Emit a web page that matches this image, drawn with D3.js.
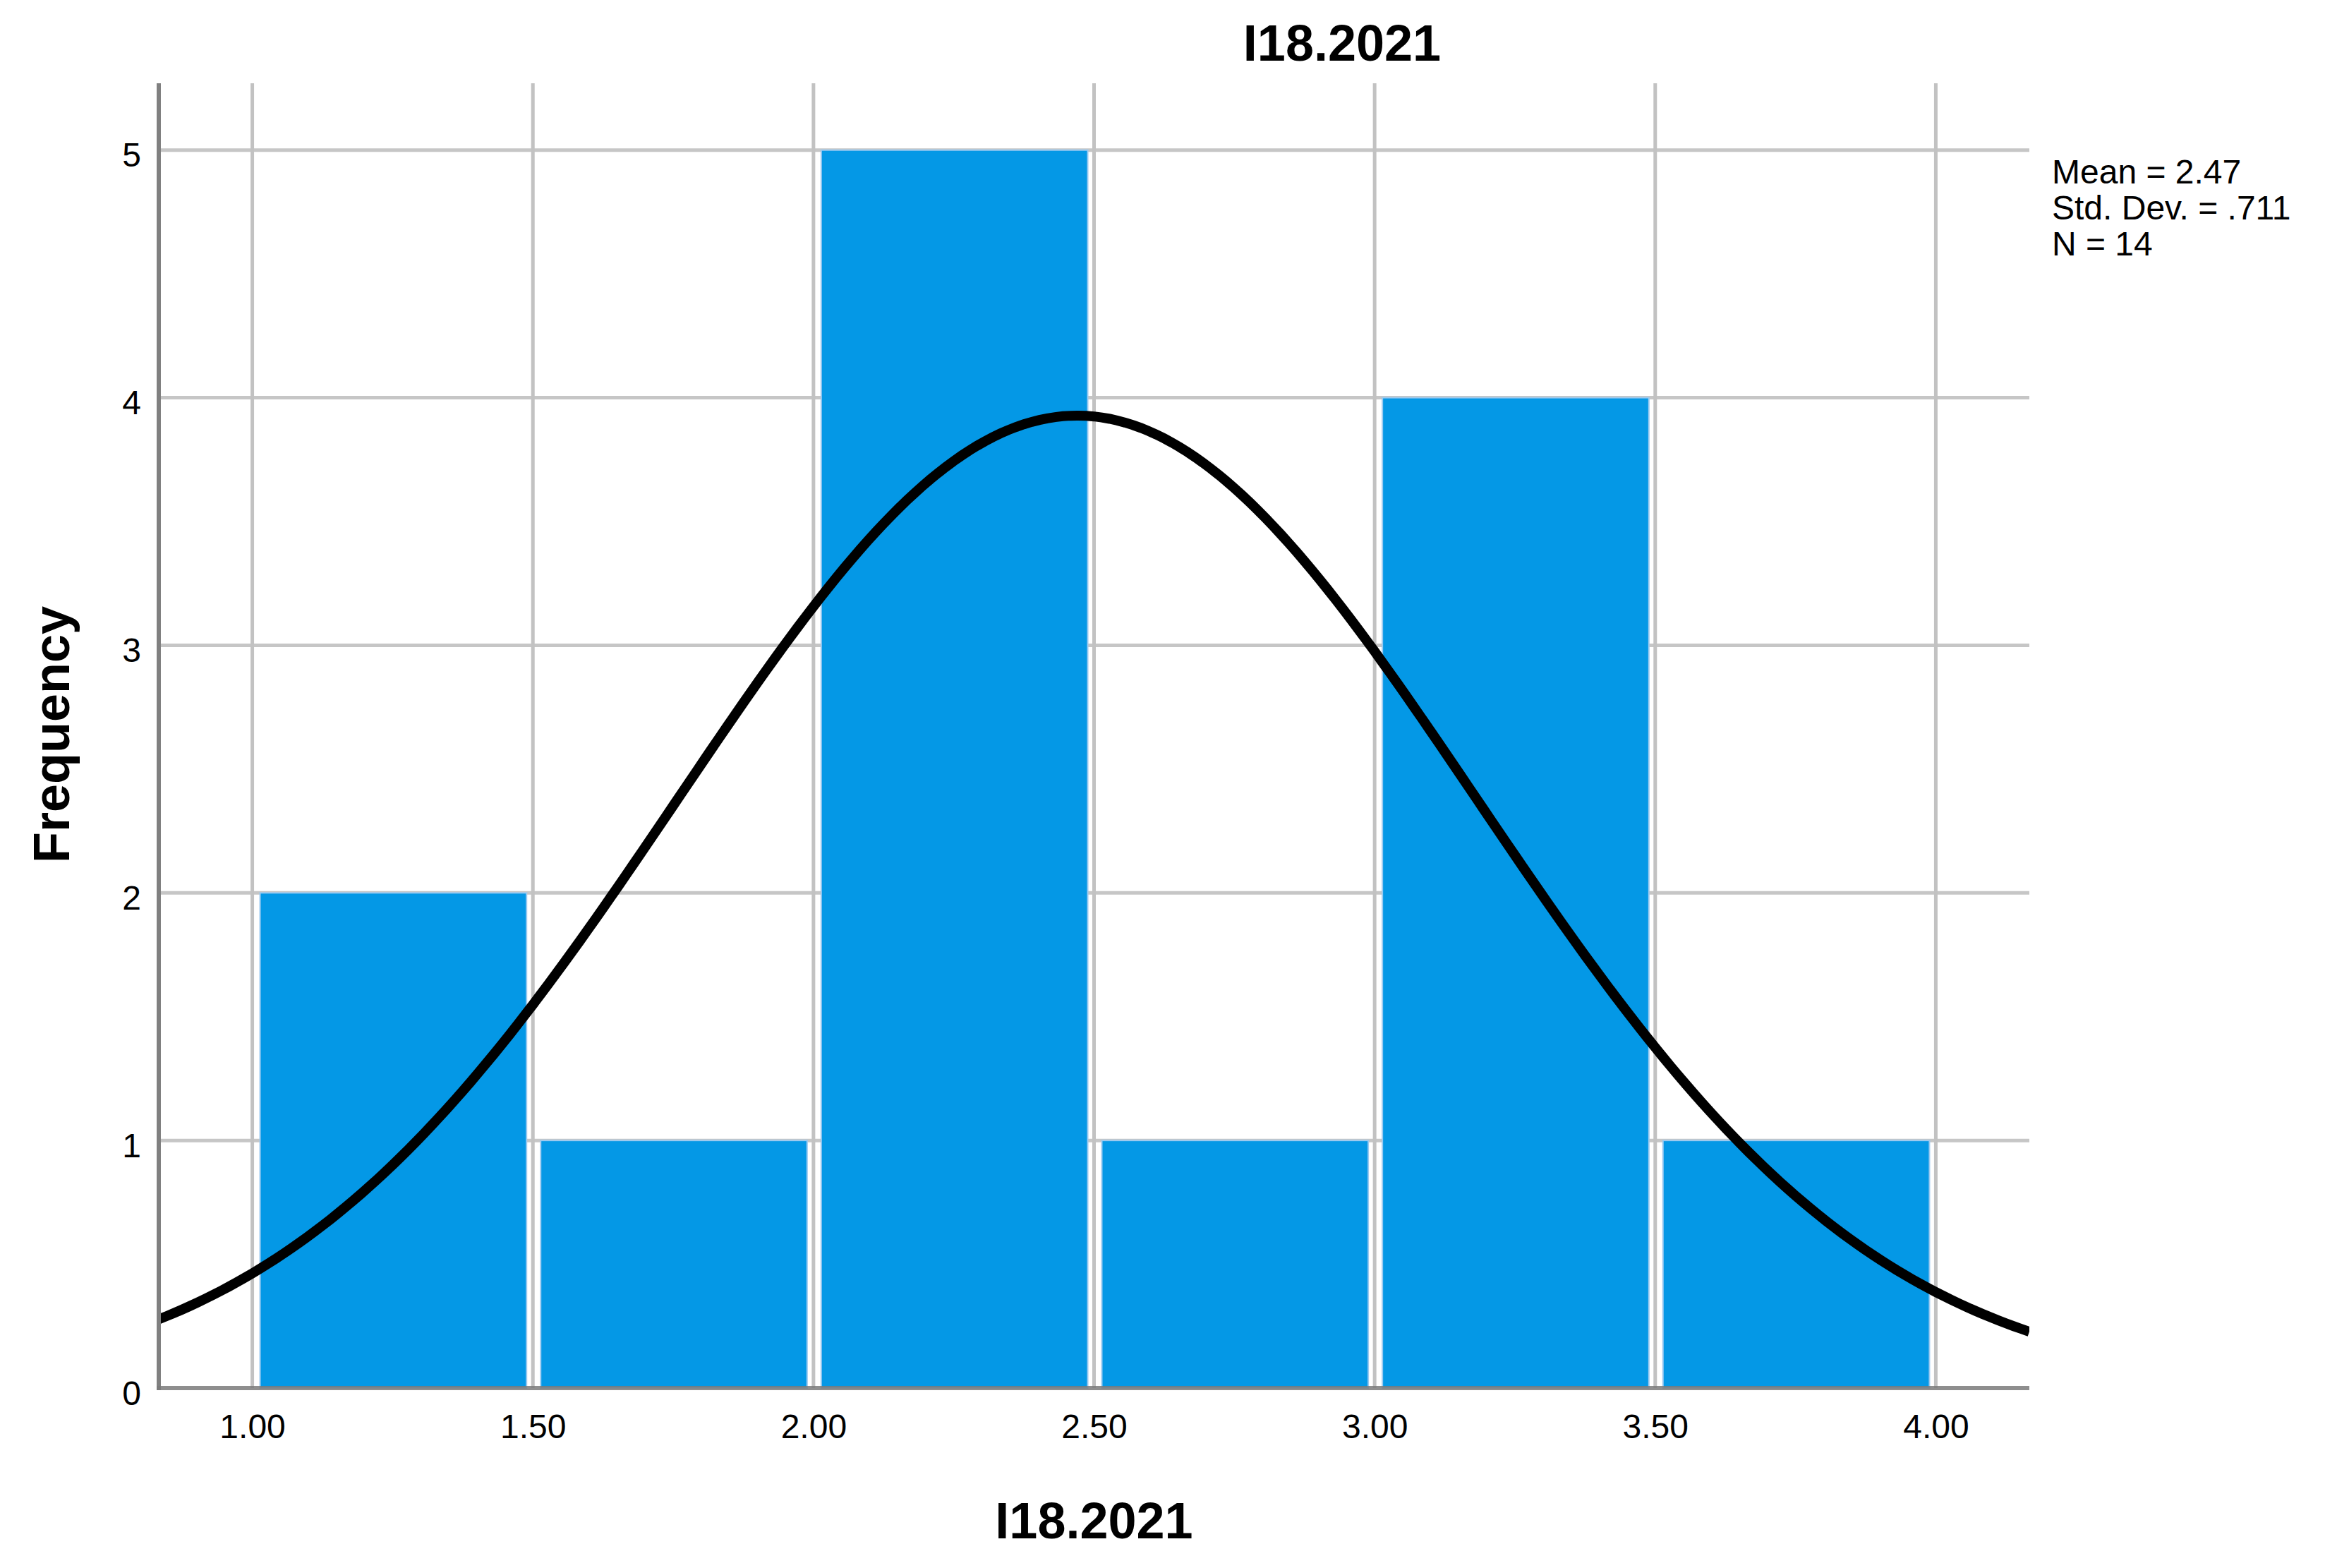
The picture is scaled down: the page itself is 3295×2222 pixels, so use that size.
<!DOCTYPE html>
<html>
<head>
<meta charset="utf-8">
<script src="https://cdn.jsdelivr.net/npm/d3@7"></script>
<style>
  body { margin: 0; background: #fff; }
  svg { display: block; }
  text { font-family: "Liberation Sans", Arial, sans-serif; fill: #000; }
</style>
</head>
<body>
<div id="chart"></div>
<script>
// histogram bins (lower edge) and their counts
var binStarts = [1.0, 1.5, 2.0, 2.5, 3.0, 3.5];
var binWidth = 0.5;
var counts = [2, 1, 5, 1, 4, 1];

var xTicks = [1.0, 1.5, 2.0, 2.5, 3.0, 3.5, 4.0];
var yTicks = [0, 1, 2, 3, 4, 5];

var statLabels = ["Mean = 2.47", "Std. Dev. = .711", "N = 14"];
var mean = 2.47, stdDev = 0.711, nCases = 14;

var varName = "I18.2021";

var W = 3295, H = 2222;
var plotLeft = 225, plotRight = 2876, plotTop = 118, plotBottom = 1967;

var svg = d3.select("#chart").append("svg")
    .attr("width", W)
    .attr("height", H);

var x = d3.scaleLinear().domain([0.8333, 4.1667]).range([plotLeft, plotRight]);
var y = d3.scaleLinear().domain([0, 5.27]).range([plotBottom, plotTop]);

// grid
var grid = svg.append("g");
grid.selectAll("line.hgrid")
    .data(yTicks.filter(function(d) { return d > 0; }))
    .enter().append("line")
    .attr("class", "hgrid")
    .attr("x1", plotLeft).attr("x2", plotRight)
    .attr("y1", function(d) { return y(d); })
    .attr("y2", function(d) { return y(d); })
    .attr("stroke", "#c6c6c6")
    .attr("stroke-width", 5);

grid.selectAll("line.vgrid")
    .data(xTicks)
    .enter().append("line")
    .attr("class", "vgrid")
    .attr("x1", function(d) { return x(d); })
    .attr("x2", function(d) { return x(d); })
    .attr("y1", plotTop).attr("y2", plotBottom)
    .attr("stroke", "#c2c2c2")
    .attr("stroke-width", 5);

// bars
svg.append("g").selectAll("rect")
    .data(binStarts)
    .enter().append("rect")
    .attr("x", function(d) { return x(d) + 11; })
    .attr("width", function(d) { return x(d + binWidth) - x(d) - 20; })
    .attr("y", function(d, i) { return y(counts[i]); })
    .attr("height", function(d, i) { return plotBottom - y(counts[i]); })
    .attr("fill", "#0498e6")
    .attr("stroke", "#9ccaf0")
    .attr("stroke-width", 2);

// fitted normal curve from the displayed statistics
svg.append("clipPath").attr("id", "plotclip")
    .append("rect")
    .attr("x", plotLeft).attr("y", plotTop)
    .attr("width", plotRight - plotLeft).attr("height", plotBottom - plotTop);

var curvePts = d3.range(0, 241).map(function(i) {
    var v = x.domain()[0] + (x.domain()[1] - x.domain()[0]) * i / 240;
    var z = (v - mean) / stdDev;
    return [v, nCases * binWidth / (stdDev * Math.sqrt(2 * Math.PI)) * Math.exp(-0.5 * z * z)];
});

var line = d3.line()
    .x(function(d) { return x(d[0]); })
    .y(function(d) { return y(d[1]); });

svg.append("path")
    .datum(curvePts)
    .attr("clip-path", "url(#plotclip)")
    .attr("d", line)
    .attr("fill", "none")
    .attr("stroke", "#000")
    .attr("stroke-width", 14);

// axis lines
svg.append("line")
    .attr("x1", plotLeft).attr("x2", plotLeft)
    .attr("y1", plotTop).attr("y2", plotBottom + 3)
    .attr("stroke", "#808080")
    .attr("stroke-width", 6);
svg.append("line")
    .attr("x1", plotLeft - 3).attr("x2", plotRight)
    .attr("y1", plotBottom).attr("y2", plotBottom)
    .attr("stroke", "#7a7a7a")
    .attr("stroke-opacity", 0.85)
    .attr("stroke-width", 6);

// tick labels
var xAxis = d3.axisBottom(x)
    .tickValues(xTicks)
    .tickSize(0)
    .tickPadding(37)
    .tickFormat(d3.format(".2f"));

svg.append("g")
    .attr("transform", "translate(0," + plotBottom + ")")
    .call(xAxis)
    .call(function(g) { g.select(".domain").remove(); })
    .selectAll("text")
    .style("font-size", "48px")
    .attr("font-family", null);

var yAxis = d3.axisLeft(y)
    .tickValues(yTicks)
    .tickSize(0)
    .tickPadding(25)
    .tickFormat(d3.format("d"));

svg.append("g")
    .attr("transform", "translate(" + plotLeft + ",0)")
    .call(yAxis)
    .call(function(g) { g.select(".domain").remove(); })
    .selectAll("text")
    .attr("dy", "0.48em")
    .style("font-size", "48px")
    .attr("font-family", null);

// titles
svg.append("text")
    .attr("x", 1902).attr("y", 86)
    .attr("text-anchor", "middle")
    .style("font-size", "72px")
    .style("font-weight", "bold")
    .text(varName);

svg.append("text")
    .attr("x", (plotLeft + plotRight) / 2).attr("y", 2180)
    .attr("text-anchor", "middle")
    .style("font-size", "72px")
    .style("font-weight", "bold")
    .text(varName);

svg.append("text")
    .attr("transform", "translate(98," + 1041 + ")rotate(-90)")
    .attr("text-anchor", "middle")
    .style("font-size", "72px")
    .style("font-weight", "bold")
    .text("Frequency");

// stats box
svg.append("g").selectAll("text")
    .data(statLabels)
    .enter().append("text")
    .attr("x", 2908)
    .attr("y", function(d, i) { return 260 + i * 51; })
    .style("font-size", "48px")
    .text(function(d) { return d; });
</script>
</body>
</html>
